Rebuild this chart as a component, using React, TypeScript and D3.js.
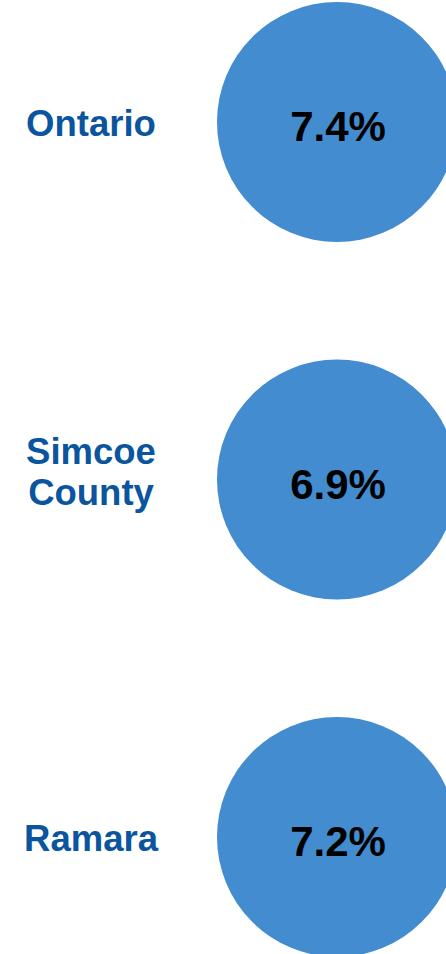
import * as d3 from "d3";

const regions = ["Ontario", "Simcoe County", "Ramara"];
const regionLines = [["Ontario"], ["Simcoe", "County"], ["Ramara"]];
const rates = [7.4, 6.9, 7.2];

const W = 446;
const H = 954;

export default function App() {
    const y = d3
        .scalePoint<string>()
        .domain(regions)
        .range([122, 837]);

    const fmt = d3.format(".1f");
    const r = 120;
    const cx = 337;
    const labelX = 91;
    const lineH = 41;

    return (
        <div style={{ position: "absolute", left: 0, top: 0 }}>
            <svg width={W} height={H} style={{ display: "block" }}>
                <rect width={W} height={H} fill="#ffffff" />
                {regions.map((name, i) => {
                    const cy = y(name) ?? 0;
                    const lines = regionLines[i];
                    const first = cy + 14 - (lines.length - 1) * 30;
                    return (
                        <g key={name}>
                            <circle cx={cx} cy={cy} r={r} fill="#438ccf" />
                            <text
                                x={cx + 1}
                                y={cy + 19}
                                textAnchor="middle"
                                fontFamily="'Liberation Sans', Arial, sans-serif"
                                fontWeight="bold"
                                fontSize={42}
                                fill="#000000"
                            >
                                {fmt(rates[i])}%
                            </text>
                            <text
                                textAnchor="middle"
                                fontFamily="'Liberation Sans', Arial, sans-serif"
                                fontWeight="bold"
                                fontSize={36.5}
                                fill="#0b559f"
                            >
                                {lines.map((ln, j) => (
                                    <tspan key={ln} x={labelX} y={first + j * lineH}>
                                        {ln}
                                    </tspan>
                                ))}
                            </text>
                        </g>
                    );
                })}
            </svg>
        </div>
    );
}
